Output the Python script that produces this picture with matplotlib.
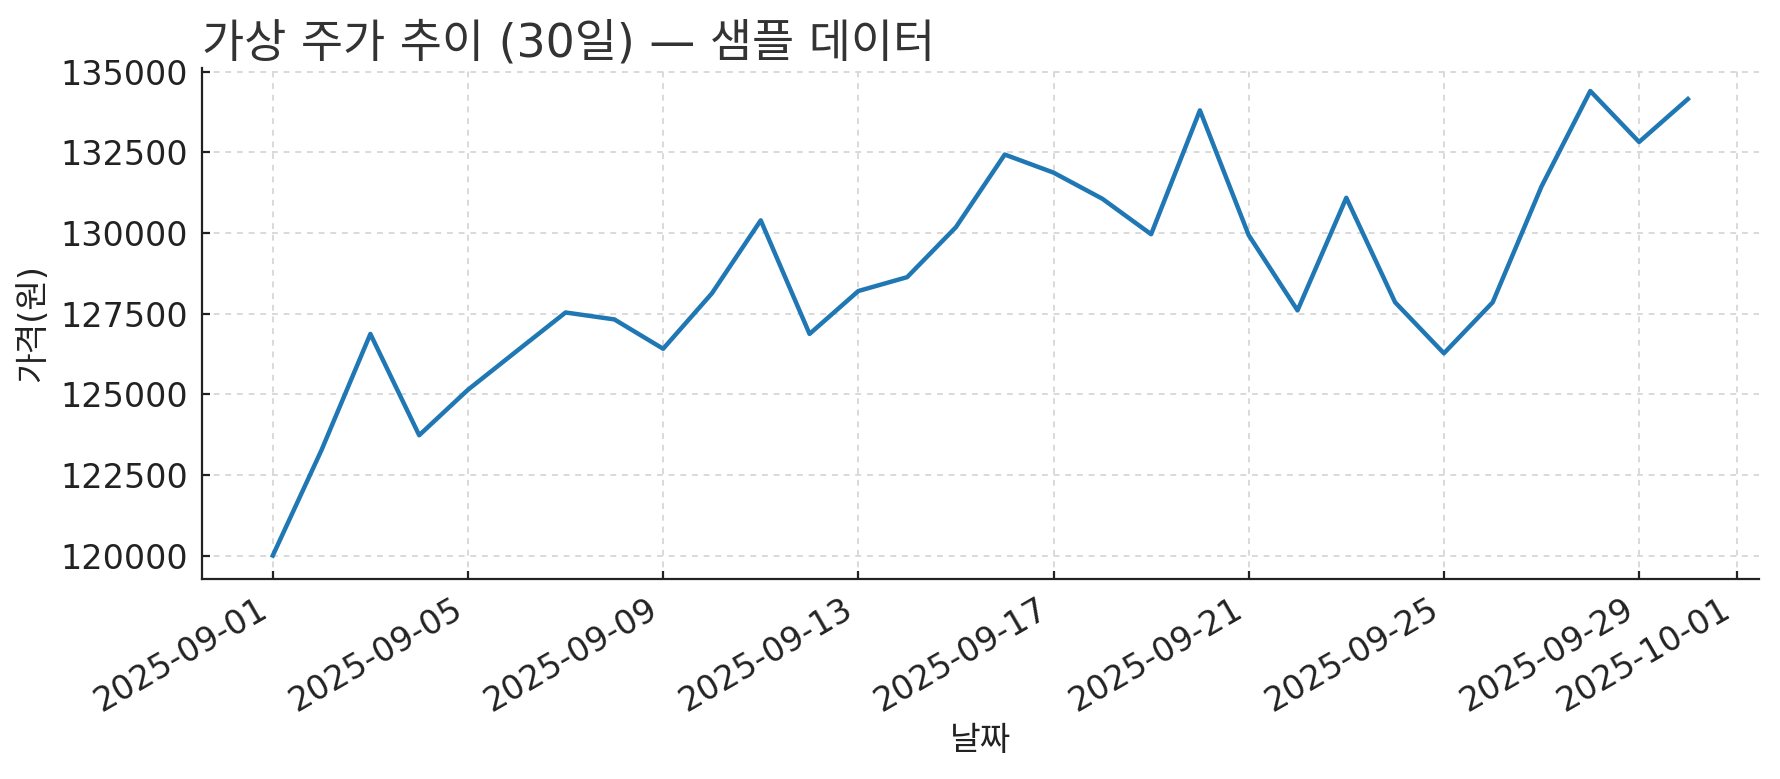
import matplotlib
matplotlib.use("Agg")
import matplotlib.pyplot as plt
import matplotlib.dates as mdates
import numpy as np
import pandas as pd

# data
dates = pd.date_range("2025-09-01", "2025-09-30", freq="D")
prices = [120000, 123275, 126870, 123730, 125140, 126340, 127535, 127320,
          126410, 128130, 130390, 126870, 128200, 128630, 130180, 132430,
          131870, 131060, 129960, 133800, 129930, 127600, 131090, 127850,
          126270, 127850, 131440, 134400, 132820, 134150]

title_txt = "가상 주가 추이 (30일) — 샘플 데이터"
xlabel_txt = "날짜"
ylabel_txt = "가격(원)"

plt.rcParams['font.family'] = ['DejaVu Sans', 'Noto Sans CJK KR']

fig = plt.figure(figsize=(8.9, 3.895), dpi=200)
ax = fig.add_axes([0.1135, 0.257, 0.8745, 0.656])

ax.plot(dates, prices, color="#1f77b4", linewidth=1.6)

ax.set_title(title_txt, loc="left", fontsize=16.5, color="#333333", pad=4)
ax.set_xlabel(xlabel_txt, fontsize=12, color="#222222", labelpad=2)
ax.set_ylabel(ylabel_txt, fontsize=12, color="#222222")

ax.xaxis.set_major_locator(mdates.DayLocator(bymonthday=[1, 5, 9, 13, 17, 21, 25, 29]))
ax.xaxis.set_major_formatter(mdates.DateFormatter("%Y-%m-%d"))
ax.yaxis.set_major_locator(plt.MultipleLocator(2500))
ax.ticklabel_format(axis="y", style="plain", useOffset=False)

for lab in ax.get_xticklabels():
	lab.set_rotation(30)
	lab.set_ha("right")

ax.tick_params(labelsize=12, colors="#222222", direction="in", length=3, pad=5)
ax.grid(True, linestyle=(0, (3, 3)), color="#d9d9d9", linewidth=0.7)

ax.spines["top"].set_visible(False)
ax.spines["right"].set_visible(False)
ax.spines["left"].set_color("#222222")
ax.spines["bottom"].set_color("#222222")

fig.savefig("out.png", dpi=200)
